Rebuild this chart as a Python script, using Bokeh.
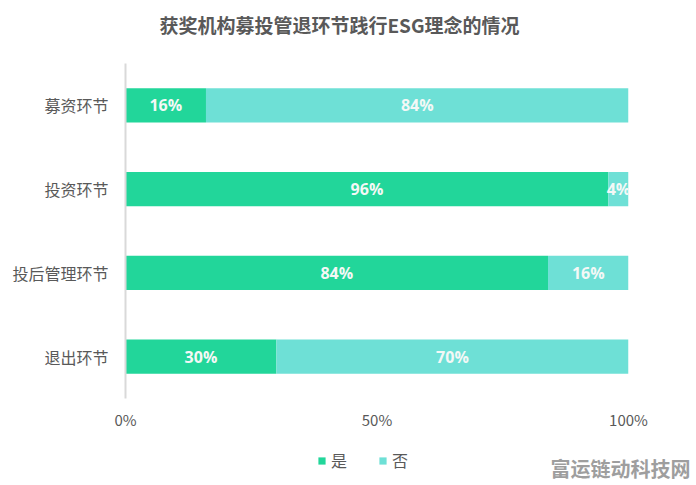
from bokeh.plotting import figure
from bokeh.layouts import column
from bokeh.models import (ColumnDataSource, FactorRange, Range1d, FixedTicker,
                          LabelSet, Label, Legend, LegendItem)
from bokeh.core.properties import value
from bokeh.embed import file_html
from bokeh.resources import INLINE

categories = ["募资环节", "投资环节", "投后管理环节", "退出环节"]
yes_vals = [16, 96, 84, 30]
no_vals = [84, 4, 16, 70]
series_names = ["是", "否"]
x_ticks = [0, 50, 100]
x_tick_labels = ["0%", "50%", "100%"]
title_text = "获奖机构募投管退环节践行ESG理念的情况"
watermark_text = "富运链动科技网"

GREEN = "#22D69A"
CYAN = "#6EE0D6"
FONT = "Noto Sans CJK SC"
GREY = "#595959"

src = ColumnDataSource(dict(
    cat=categories,
    yes=yes_vals,
    no=no_vals,
    yes_mid=[v / 2 for v in yes_vals],
    no_mid=[y + n / 2 for y, n in zip(yes_vals, no_vals)],
    yes_lbl=[f"{v}%" for v in yes_vals],
    no_lbl=[f"{v}%" for v in no_vals],
))

# ---------------- main chart ----------------
p = figure(width=696, height=440, output_backend="svg", toolbar_location=None,
           y_range=FactorRange(factors=list(reversed(categories))),
           x_range=Range1d(0, 100),
           min_border_left=125, min_border_right=68,
           min_border_top=63, min_border_bottom=42)
p.frame_align = False
p.outline_line_color = None
p.xgrid.visible = False
p.ygrid.visible = False
p.background_fill_color = "white"
p.border_fill_color = "white"

rs = p.hbar_stack(["yes", "no"], y="cat", height=0.41, source=src,
                  color=[GREEN, CYAN], line_color=None)

for xcol, tcol in (("yes_mid", "yes_lbl"), ("no_mid", "no_lbl")):
    p.add_layout(LabelSet(x=xcol, y="cat", text=tcol, source=src,
                          text_align="center", text_baseline="middle",
                          text_color="#F4F8F6", text_font=value("Open Sans"),
                          text_font_style="bold", text_font_size="16px"))

p.xaxis.ticker = FixedTicker(ticks=x_ticks)
p.xaxis.major_label_overrides = {t: l for t, l in zip(x_ticks, x_tick_labels)}
p.xaxis.axis_line_color = None
p.xaxis.major_tick_line_color = None
p.xaxis.minor_tick_line_color = None
p.xaxis.major_tick_out = 0
p.xaxis.major_tick_in = 0
p.xaxis.major_label_standoff = 10
p.xaxis.major_label_text_font = FONT
p.xaxis.major_label_text_font_size = "15px"
p.xaxis.major_label_text_color = GREY

p.yaxis.axis_line_color = "#D9D9D9"
p.yaxis.axis_line_width = 2
p.yaxis.major_tick_line_color = None
p.yaxis.minor_tick_line_color = None
p.yaxis.major_tick_out = 0
p.yaxis.major_tick_in = 0
p.yaxis.major_label_standoff = 17
p.yaxis.major_label_text_font = FONT
p.yaxis.major_label_text_font_size = "16px"
p.yaxis.major_label_text_color = GREY

p.add_layout(Label(x=339, y=24, x_units="canvas", y_units="canvas",
                   text=title_text, text_align="center", text_baseline="middle",
                   text_font=FONT, text_font_style="bold", text_font_size="19px",
                   text_color=GREY), "above")

# ---------------- legend strip ----------------
# the strip's x range lies outside the data, so its bars stay hidden and only
# serve as legend glyphs
p2 = figure(width=696, height=45, output_backend="svg", toolbar_location=None,
            x_axis_location=None, y_axis_location=None,
            x_range=Range1d(-300, -200), y_range=FactorRange(factors=list(reversed(categories))),
            min_border=0)
p2.frame_align = False
p2.outline_line_color = None
p2.xgrid.visible = False
p2.ygrid.visible = False
p2.background_fill_color = "white"
p2.border_fill_color = "white"

rs2 = p2.hbar_stack(["yes", "no"], y="cat", height=0.41, source=src,
                    color=[GREEN, CYAN], line_color=None)

legend = Legend(items=[LegendItem(label=series_names[0], renderers=[rs2[0]]),
                       LegendItem(label=series_names[1], renderers=[rs2[1]])],
                orientation="horizontal", location=(317, 13),
                glyph_width=9, glyph_height=9, label_standoff=5, spacing=27,
                padding=0, margin=0, border_line_alpha=0, background_fill_alpha=0,
                label_text_font=FONT, label_text_font_size="16px",
                label_text_color=GREY, label_height=20)
p2.add_layout(legend, "center")

p2.add_layout(Label(x=690, y=17, x_units="screen", y_units="screen",
                    text=watermark_text, text_align="right", text_baseline="middle",
                    text_font=FONT, text_font_style="bold", text_font_size="20px",
                    text_color="#9E9E9E"))

open("out.html", "w").write(file_html(column(p, p2, spacing=0), INLINE))
